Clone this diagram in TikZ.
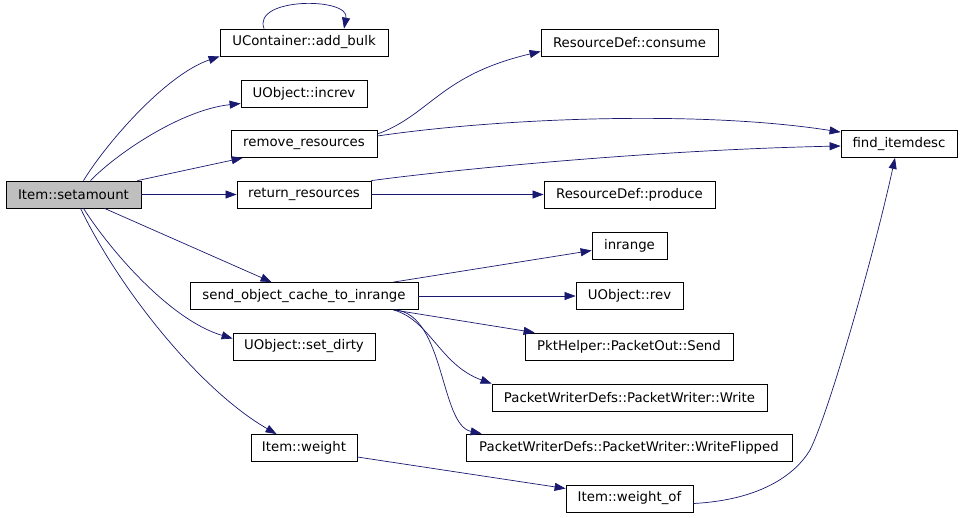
\documentclass[tikz,border=0pt]{standalone}
\usepackage{fontspec}
\setmainfont{DejaVu Sans}
\usepackage{tikz}
\usetikzlibrary{arrows.meta,calc}
\usepackage{xcolor}
\definecolor{callblue}{RGB}{25,25,112}
\definecolor{rootgray}{RGB}{191,191,191}

\begin{document}
\begin{tikzpicture}[
        x=1pt, y=-1pt,
        fn/.style={rectangle, draw=black, line width=0.8pt, fill=white, minimum height=27pt, inner sep=0pt, align=center, font=\fontsize{13.3}{15}\selectfont},
        rootfn/.style={fn, fill=rootgray},
        call/.style={-{Triangle[length=11pt, width=8pt]}, line width=0.7pt, callblue},
    ]
        \useasboundingbox (0,0) rectangle (963,517);

        % Caller
        \node[rootfn, minimum width=135pt] (setamount) at (73.5,194.5) {Item::setamount};

        % Direct callees
        \node[fn, minimum width=168pt] (addbulk) at (304,42.5) {UContainer::add\_bulk};
        \node[fn, minimum width=126pt] (increv) at (304,93.5) {UObject::increv};
        \node[fn, minimum width=146pt] (remove) at (304,144) {remove\_resources};
        \node[fn, minimum width=134pt] (return) at (304,194.5) {return\_resources};
        \node[fn, minimum width=228pt] (sendcache) at (304,296) {send\_object\_cache\_to\_inrange};
        \node[fn, minimum width=142pt] (setdirty) at (304,346.5) {UObject::set\_dirty};
        \node[fn, minimum width=106pt] (weight) at (304,448) {Item::weight};

        % Second level
        \node[fn, minimum width=177pt] (consume) at (629.5,42.5) {ResourceDef::consume};
        \node[fn, minimum width=171pt] (produce) at (629.5,194.5) {ResourceDef::produce};
        \node[fn, minimum width=75pt] (inrange) at (629.5,245.5) {inrange};
        \node[fn, minimum width=107pt] (rev) at (629.5,296) {UObject::rev};
        \node[fn, minimum width=208pt] (pktsend) at (629,346.5) {PktHelper::PacketOut::Send};
        \node[fn, minimum width=275pt] (write) at (629.5,397.5) {PacketWriterDefs::PacketWriter::Write};
        \node[fn, minimum width=326pt] (writeflip) at (629,447.5) {PacketWriterDefs::PacketWriter::WriteFlipped};
        \node[fn, minimum width=127pt] (weightof) at (629.5,498.5) {Item::weight\_of};

        % Third level
        \node[fn, minimum width=116pt] (finddesc) at (899,144) {find\_itemdesc};

        % Calls from Item::setamount
        \draw[call] ([xshift=10pt]setamount.north) .. controls (105,145) and (165,75) .. (addbulk.south west);
        \draw[call] ([xshift=-40pt]addbulk.north) .. controls (252,-3) and (350,-3) .. ([xshift=40pt]addbulk.north);
        \draw[call] ([xshift=17pt]setamount.north) .. controls (115,155) and (180,110) .. ($(increv.west)+(0,10)$);
        \draw[call] ([xshift=-4pt]setamount.north east) -- ([xshift=12pt]remove.south west);
        \draw[call] (setamount.east) -- (return.west);
        \draw[call] ([xshift=31pt]setamount.south) -- ([xshift=82pt]sendcache.north west);
        \draw[call] ([xshift=10pt]setamount.south) .. controls (110,250) and (170,320) .. ($(setdirty.west)+(0,-8)$);
        \draw[call] ([xshift=7pt]setamount.south) .. controls (120,290) and (200,390) .. ([xshift=26pt]weight.north west);

        % Calls from resources
        \draw[call] ($(remove.east)+(0,-10)$) .. controls (430,115) and (440,75) .. ($(consume.west)+(0,9)$);
        \draw[call] ($(remove.east)+(0,-8)$) .. controls (500,118) and (700,110) .. ($(finddesc.north west)+(0,2)$);
        \draw[call] (return.north east) .. controls (450,170) and (650,150) .. ($(finddesc.west)+(0,2)$);
        \draw[call] (return.east) -- (produce.west);

        % Calls from send_object_cache_to_inrange
        \draw[call] ([xshift=-25pt]sendcache.north east) -- ($(inrange.west)+(0,5)$);
        \draw[call] (sendcache.east) -- (rev.west);
        \draw[call] ([xshift=-25pt]sendcache.south east) -- ([xshift=10pt]pktsend.north west);
        \draw[call] ([xshift=-25pt]sendcache.south east) .. controls (430,320) and (440,365) .. (write.north west);
        \draw[call] ([xshift=-23pt]sendcache.south east) .. controls (445,315) and (440,425) .. ([xshift=16pt]writeflip.north west);

        % Weight chain
        \draw[call] ($(weight.east)+(0,9)$) -- ($(weightof.west)+(0,-10)$);
        \draw[call] ($(weightof.east)+(0,5)$) .. controls (760,500) and (795,475) .. (810,450)
            .. controls (830,410) and (875,250) .. ([xshift=-4pt]finddesc.south);
    \end{tikzpicture}
\end{document}
